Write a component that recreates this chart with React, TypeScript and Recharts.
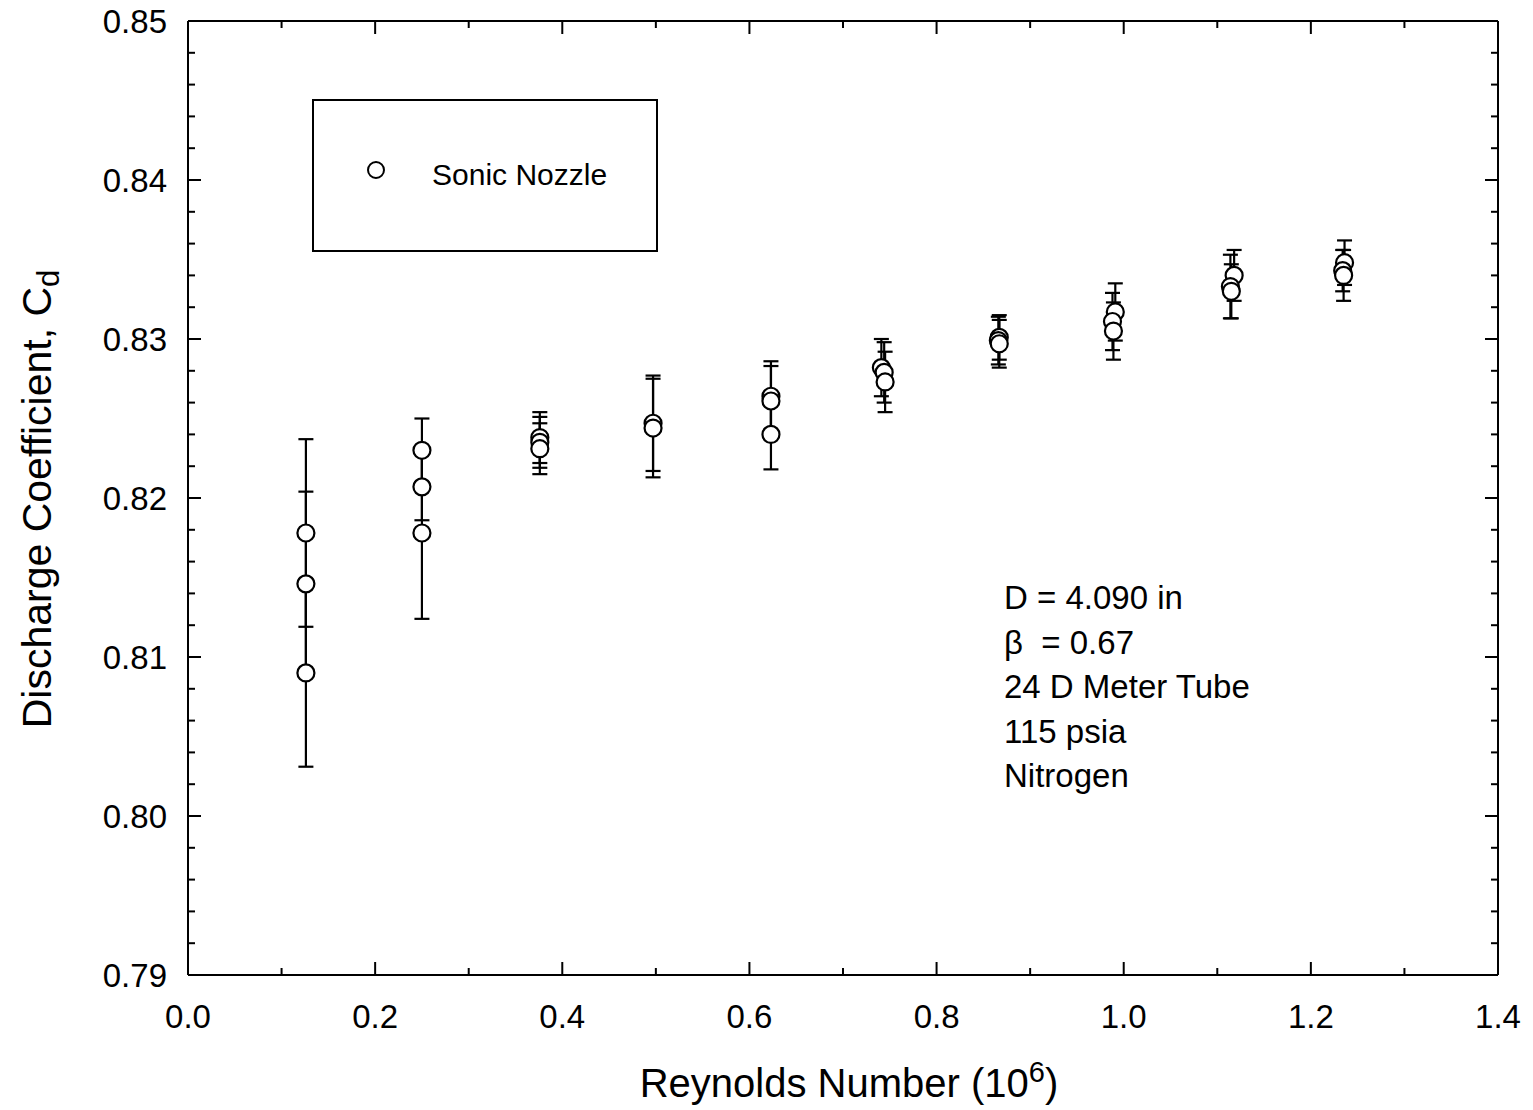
import React from 'react';
import { ScatterChart, Scatter, XAxis, YAxis, ErrorBar, Legend } from 'recharts';

// Reynolds number (10^6)
const reynolds = [
  0.126, 0.126, 0.126,
  0.250, 0.250, 0.250,
  0.376, 0.376, 0.376,
  0.497, 0.497,
  0.623, 0.623, 0.623,
  0.741, 0.744, 0.745,
  0.867, 0.866, 0.867,
  0.991, 0.988, 0.989,
  1.118, 1.114, 1.115,
  1.236, 1.234, 1.235,
];
// Discharge coefficient Cd
const dischargeCoeff = [
  0.8178, 0.8146, 0.8090,
  0.8230, 0.8207, 0.8178,
  0.8238, 0.8235, 0.8231,
  0.8247, 0.8244,
  0.8264, 0.8261, 0.8240,
  0.8282, 0.8279, 0.8273,
  0.8301, 0.8299, 0.8297,
  0.8317, 0.8311, 0.8305,
  0.8340, 0.8333, 0.8330,
  0.8348, 0.8343, 0.8340,
];
// Uncertainty (+/-)
const uncertainty = [
  0.0059, 0.0058, 0.0059,
  0.0020, 0.0021, 0.0054,
  0.0016, 0.0016, 0.0016,
  0.0030, 0.0031,
  0.0022, 0.0022, 0.0022,
  0.0018, 0.0019, 0.0019,
  0.0014, 0.0015, 0.0015,
  0.0018, 0.0018, 0.0018,
  0.0016, 0.0020, 0.0017,
  0.0014, 0.0013, 0.0016,
];

const xTicks = [0, 0.1, 0.2, 0.3, 0.4, 0.5, 0.6, 0.7, 0.8, 0.9, 1.0, 1.1, 1.2, 1.3, 1.4];
const xLabelTicks = ['0.0', '0.2', '0.4', '0.6', '0.8', '1.0', '1.2', '1.4'];
const yTicks = [
  0.79, 0.792, 0.794, 0.796, 0.798, 0.80, 0.802, 0.804, 0.806, 0.808,
  0.81, 0.812, 0.814, 0.816, 0.818, 0.82, 0.822, 0.824, 0.826, 0.828,
  0.83, 0.832, 0.834, 0.836, 0.838, 0.84, 0.842, 0.844, 0.846, 0.848, 0.85,
];
const seriesName = 'Sonic Nozzle';
const notes = ['D = 4.090 in', 'β  = 0.67', '24 D Meter Tube', '115 psia', 'Nitrogen'];

const data = reynolds.map((x, i) => ({ x, y: dischargeCoeff[i], err: uncertainty[i] }));

const FONT = '"Liberation Sans", Arial, Helvetica, sans-serif';
const isMajorX = (v: number) => Math.round(v * 10) % 2 === 0;
const isMajorY = (v: number) => Math.round(v * 1000) % 10 === 0;

const BottomTick = (p: any) => {
  const v = p.payload.value;
  const major = isMajorX(v);
  const label = v.toFixed(1);
  return (
    <g>
      <line x1={p.x} x2={p.x} y1={p.y} y2={p.y - (major ? 13 : 7)} stroke="#000" strokeWidth={2} />
      {major && xLabelTicks.includes(label) && (
        <text x={p.x} y={p.y + 53} textAnchor="middle" fontSize={33} fontFamily={FONT} fill="#000">
          {label}
        </text>
      )}
    </g>
  );
};

const TopTick = (p: any) => {
  const major = isMajorX(p.payload.value);
  return <line x1={p.x} x2={p.x} y1={p.y} y2={p.y + (major ? 13 : 7)} stroke="#000" strokeWidth={2} />;
};

const LeftTick = (p: any) => {
  const v = p.payload.value;
  const major = isMajorY(v);
  return (
    <g>
      <line x1={p.x} x2={p.x + (major ? 13 : 7)} y1={p.y} y2={p.y} stroke="#000" strokeWidth={2} />
      {major && (
        <text x={p.x - 21} y={p.y} dy="0.36em" textAnchor="end" fontSize={33} fontFamily={FONT} fill="#000">
          {v.toFixed(2)}
        </text>
      )}
    </g>
  );
};

const RightTick = (p: any) => {
  const major = isMajorY(p.payload.value);
  return <line x1={p.x} x2={p.x - (major ? 13 : 7)} y1={p.y} y2={p.y} stroke="#000" strokeWidth={2} />;
};

const XTitle = () => (
  <text x={849} y={1097} textAnchor="middle" fontSize={40} fontFamily={FONT} fill="#000">
    Reynolds Number (10
    <tspan dy={-15} fontSize={29}>6</tspan>
    <tspan dy={15}>)</tspan>
  </text>
);

const YTitle = () => (
  <text
    x={51}
    y={499}
    transform="rotate(-90, 51, 499)"
    textAnchor="middle"
    fontSize={41}
    fontFamily={FONT}
    fill="#000"
  >
    Discharge Coefficient, C
    <tspan dy={8} fontSize={31}>d</tspan>
  </text>
);

const LegendBox = () => (
  <div
    style={{
      width: 346,
      height: 153,
      boxSizing: 'border-box',
      border: '2px solid #000',
      position: 'relative',
      fontFamily: FONT,
      background: '#fff',
    }}
  >
    <svg width={22} height={22} style={{ position: 'absolute', left: 51, top: 58 }}>
      <circle cx={11} cy={11} r={8} fill="#fff" stroke="#000" strokeWidth={2} />
    </svg>
    <span style={{ position: 'absolute', left: 118, top: 56, fontSize: 30, lineHeight: '36px', color: '#000', whiteSpace: 'nowrap' }}>
      {seriesName}
    </span>
  </div>
);

const CircleShape = (p: any) => (
  <circle cx={p.cx} cy={p.cy} r={8.5} fill="#fff" stroke="#000" strokeWidth={2.2} />
);

export default function App() {
  return (
    <div style={{ position: 'absolute', left: 0, top: 0, width: 1533, height: 1110, background: '#fff' }}>
      <ScatterChart width={1533} height={1110} margin={{ top: 20, right: 34, bottom: 35, left: 88 }}>
        <XAxis
          xAxisId="main"
          type="number"
          dataKey="x"
          domain={[0, 1.4]}
          ticks={xTicks}
          interval={0}
          orientation="bottom"
          height={100}
          tickSize={0}
          tickMargin={0}
          tickLine={false}
          axisLine={{ stroke: '#000', strokeWidth: 2 }}
          tick={<BottomTick />}
          label={<XTitle />}
          allowDataOverflow
        />
        <XAxis
          xAxisId="top"
          type="number"
          dataKey="x"
          domain={[0, 1.4]}
          ticks={xTicks}
          interval={0}
          orientation="top"
          height={1}
          tickSize={0}
          tickMargin={0}
          tickLine={false}
          axisLine={{ stroke: '#000', strokeWidth: 2 }}
          tick={<TopTick />}
          allowDataOverflow
        />
        <YAxis
          yAxisId="main"
          type="number"
          dataKey="y"
          domain={[0.79, 0.85]}
          ticks={yTicks}
          interval={0}
          orientation="left"
          width={100}
          tickSize={0}
          tickMargin={0}
          tickLine={false}
          axisLine={{ stroke: '#000', strokeWidth: 2 }}
          tick={<LeftTick />}
          label={<YTitle />}
          allowDataOverflow
        />
        <YAxis
          yAxisId="right"
          type="number"
          dataKey="y"
          domain={[0.79, 0.85]}
          ticks={yTicks}
          interval={0}
          orientation="right"
          width={1}
          tickSize={0}
          tickMargin={0}
          tickLine={false}
          axisLine={{ stroke: '#000', strokeWidth: 2 }}
          tick={<RightTick />}
          allowDataOverflow
        />
        <Legend
          layout="vertical"
          align="center"
          verticalAlign="middle"
          content={<LegendBox />}
          wrapperStyle={{ position: 'absolute', left: 312, top: 99, width: 346, height: 153 }}
        />
        <Scatter
          name={seriesName}
          data={data}
          xAxisId="main"
          yAxisId="main"
          shape={<CircleShape />}
          isAnimationActive={false}
        >
          <ErrorBar dataKey="err" direction="y" width={7.5} stroke="#000" strokeWidth={2.2} isAnimationActive={false} />
        </Scatter>
      </ScatterChart>
      <div
        style={{
          position: 'absolute',
          left: 1004,
          top: 576,
          fontFamily: FONT,
          fontSize: 33,
          lineHeight: '44.5px',
          color: '#000',
          whiteSpace: 'pre',
        }}
      >
        {notes.map((n) => (
          <div key={n}>{n}</div>
        ))}
      </div>
    </div>
  );
}
